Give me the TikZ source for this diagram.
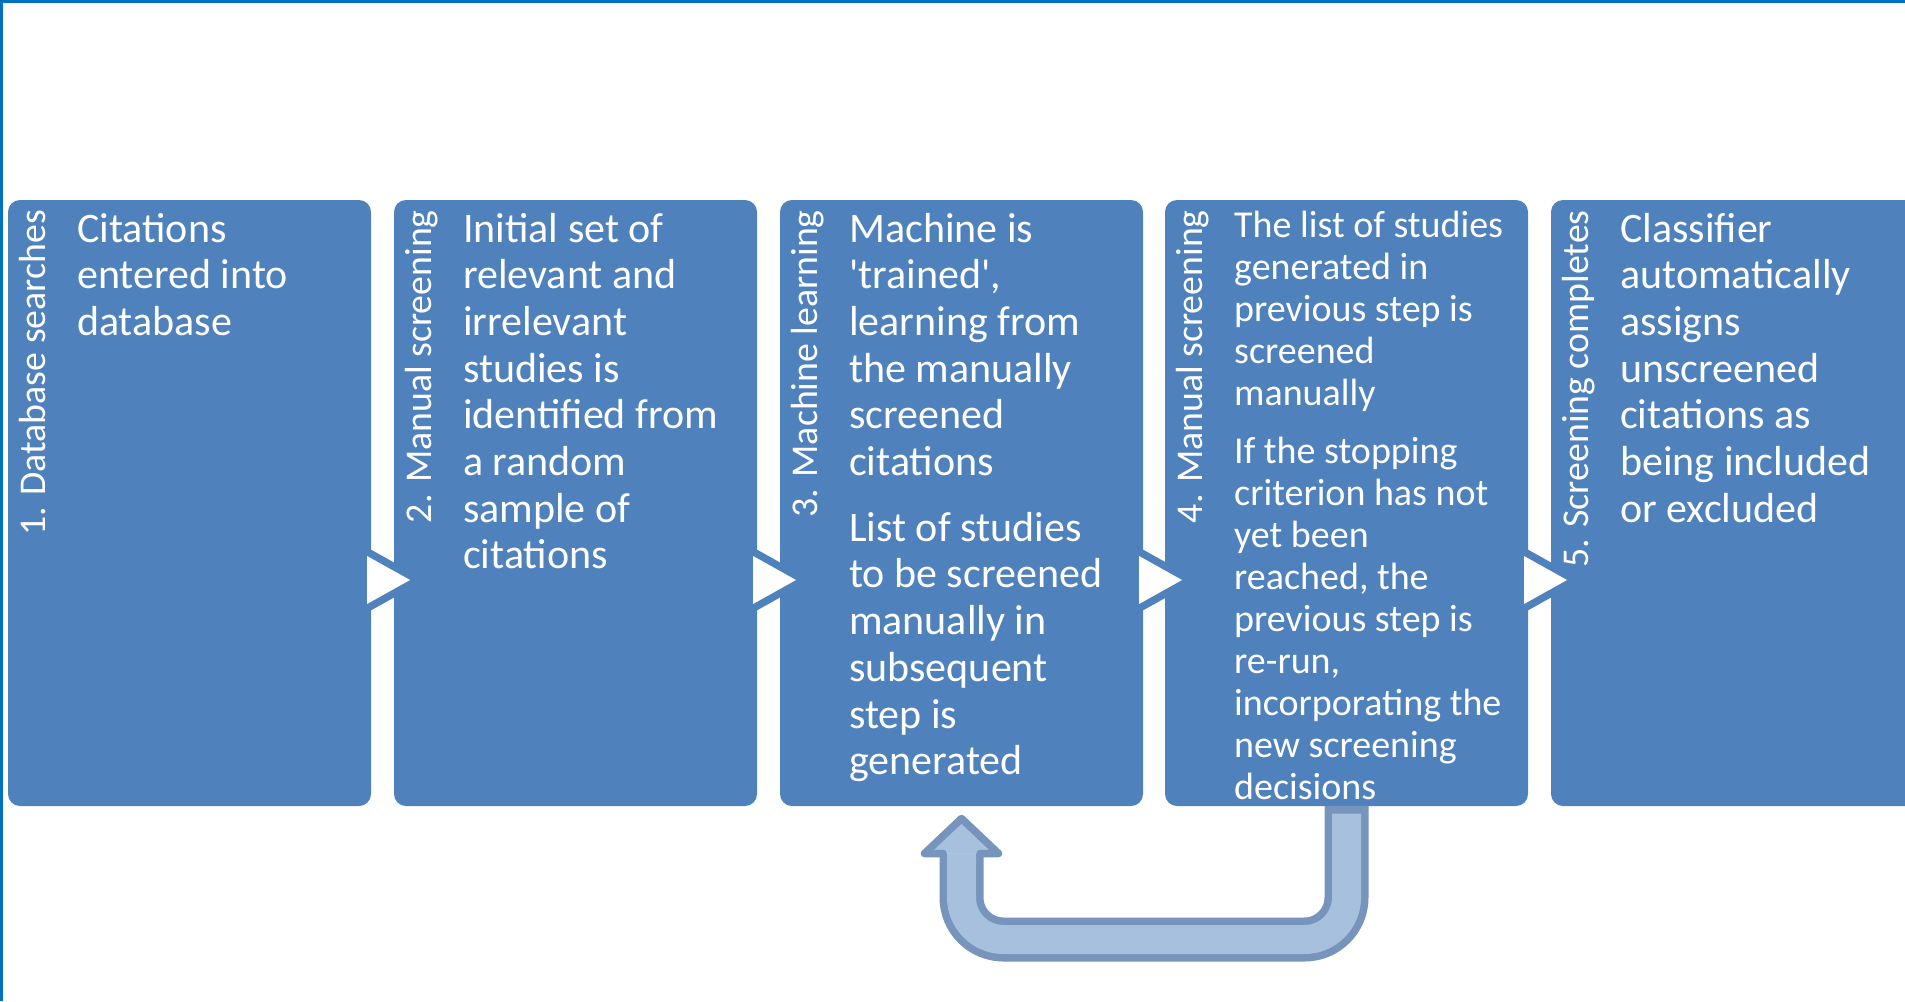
\documentclass[tikz,border=0pt]{standalone}
\usepackage{fontspec}
\setmainfont{Carlito}
\usetikzlibrary{calc}
\definecolor{boxblue}{RGB}{79,129,189}
\definecolor{frameblue}{RGB}{0,112,192}
\definecolor{arrfill}{RGB}{167,192,222}
\definecolor{arrline}{RGB}{118,148,188}
\newcommand{\bigtxt}{\fontsize{42pt}{46.7pt}\selectfont}
\newcommand{\smalltxt}{\fontsize{38pt}{42pt}\selectfont}
\newcommand{\sq}{\textquotesingle}
\begin{document}
\begin{tikzpicture}[x=1pt,y=-1pt,
  stepbox/.style={draw=none, fill=boxblue, rounded corners=12pt, minimum width=363pt,
    minimum height=606pt, anchor=north west, inner sep=0pt, outer sep=0pt},
  steplabel/.style={rotate=90, anchor=base east, inner sep=0pt, text=white,
    font=\fontsize{37.8pt}{40pt}\selectfont},
  steptext/.style={anchor=base west, inner sep=0pt, text=white},
  flowtri/.style={fill=white, preaction={draw=boxblue, line width=15pt, line join=round}},
  loopout/.style={draw=arrline, line width=44pt, rounded corners=42pt},
  loopin/.style={draw=arrfill, line width=29pt, rounded corners=42pt},
  headline/.style={draw=arrline, line width=7.5pt, line join=round, line cap=round}]
\useasboundingbox (0,0) rectangle (1905,1001);
\fill[white] (0,0) rectangle (1905,1001);
% frame
\fill[frameblue] (0,0) rectangle (1905,3);
\fill[frameblue] (0,0) rectangle (3,1001);
% boxes
\node[stepbox] (b1) at (8,200) {};
\node[stepbox] (b2) at (394,200) {};
\node[stepbox] (b3) at (780,200) {};
\node[stepbox] (b4) at (1165,200) {};
\node[stepbox, minimum width=400pt] (b5) at (1551,200) {};
% triangles between boxes
\foreach \a in {b1,b2,b3,b4}{
  \path[flowtri] ($(\a.north east)+(-4,356)$) -- ($(\a.north east)+(39,380)$)
     -- ($(\a.north east)+(-4,404)$) -- cycle;
}
% feedback loop from step 4 back to step 3
\draw[loopout] (b4.south) -- ($(b4.south)+(0,133.5)$) -- ($(b3.south)+(0,133.5)$) -- ($(b3.south)+(0,47.5)$);
\draw[loopin] ($(b4.south)+(0,7.5)$) -- ($(b4.south)+(0,133.5)$) -- ($(b3.south)+(0,133.5)$) -- ($(b3.south)+(0,47.5)$);
\fill[arrfill] ($(b3.south)+(0,12.5)$) -- ($(b3.south)+(37,47.5)$) -- ($(b3.south)+(-37,47.5)$) -- cycle;
\draw[headline] ($(b3.south)+(-18.5,47.5)$) -- ($(b3.south)+(-37,47.5)$) -- ($(b3.south)+(0,12.5)$)
   -- ($(b3.south)+(37,47.5)$) -- ($(b3.south)+(18.5,47.5)$);
% vertical labels
\node[steplabel] (l1) at ($(b1.north west)+(37,10)$) {1. Database searches};
\node[steplabel] (l2) at ($(b2.north west)+(37,10)$) {2. Manual screening};
\node[steplabel] (l3) at ($(b3.north west)+(37,10)$) {3. Machine learning};
\node[steplabel] (l4) at ($(b4.north west)+(37,10)$) {4. Manual screening};
\node[steplabel] (l5) at ($(b5.north west)+(37,10)$) {5. Screening completes};
% texts
\node[steptext] (t1) at ($(b1.north west)+(69,42)$) {\parbox[t]{330pt}{\raggedright\bigtxt
  Citations\\ entered into\\ database}};
\node[steptext] (t2) at ($(b2.north west)+(69,42)$) {\parbox[t]{330pt}{\raggedright\bigtxt
  Initial set of\\ relevant and\\ irrelevant\\ studies is\\ identified from\\ a random\\ sample of\\ citations}};
\node[steptext] (t3) at ($(b3.north west)+(69,42)$) {\parbox[t]{330pt}{\raggedright\bigtxt
  Machine is\\ \sq trained\sq,\\ learning from\\ the manually\\ screened\\ citations\\[19pt]
  List of studies\\ to be screened\\ manually in\\ subsequent\\ step is\\ generated}};
\node[steptext] (t4) at ($(b4.north west)+(69,37)$) {\parbox[t]{330pt}{\raggedright\smalltxt
  The list of studies\\ generated in\\ previous step is\\ screened\\ manually\\[16.4pt]
  If the stopping\\ criterion has not\\ yet been\\ reached, the\\ previous step is\\ re-run,\\ incorporating the\\ new screening\\ decisions}};
\node[steptext] (t5) at ($(b5.north west)+(69,42)$) {\parbox[t]{330pt}{\raggedright\bigtxt
  Classifier\\ automatically\\ assigns\\ unscreened\\ citations as\\ being included\\ or excluded}};
\end{tikzpicture}
\end{document}
